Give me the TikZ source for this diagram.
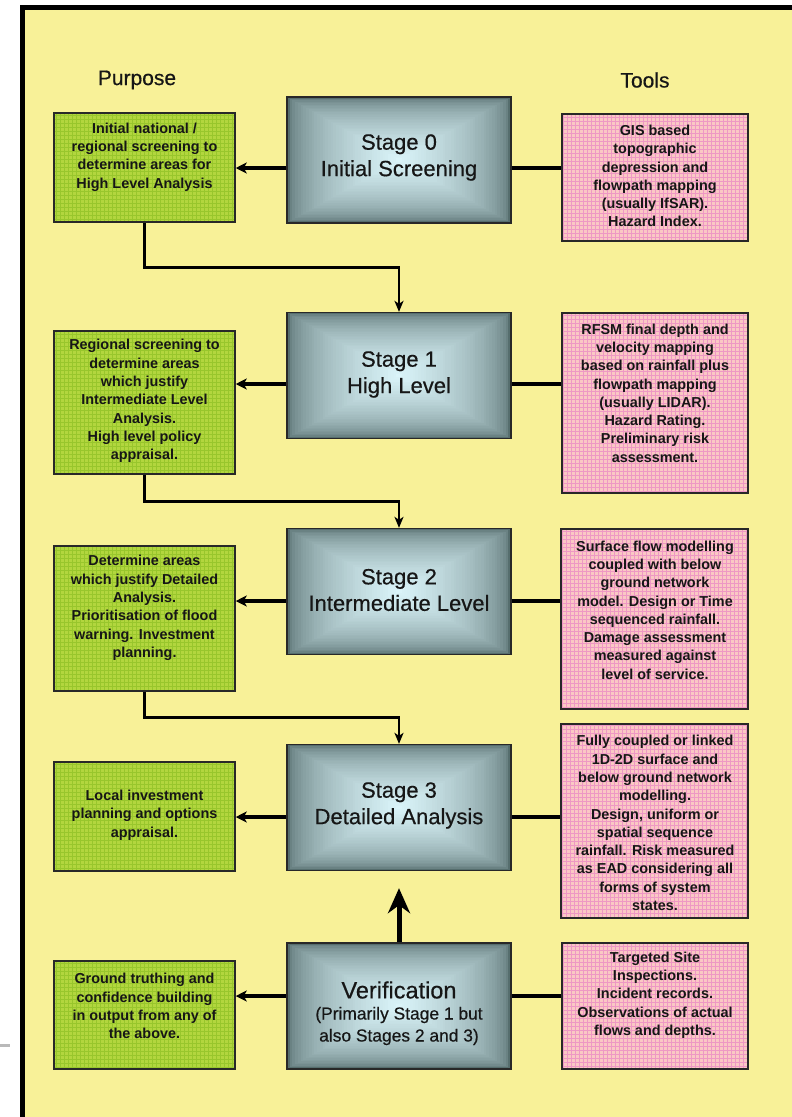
\documentclass[tikz,border=0pt]{standalone}
\usepackage{fontspec}
\setmainfont{Liberation Sans}
\newfontfamily\heavyfont[FakeBold=0.5]{Liberation Sans}
\usetikzlibrary{arrows.meta,calc}
\definecolor{bgyellow}{RGB}{248,241,152}
\definecolor{gfill}{RGB}{178,214,62}
\definecolor{gline}{RGB}{152,198,44}
\definecolor{pfill}{RGB}{250,200,196}
\definecolor{pline}{RGB}{238,152,196}
\definecolor{sdark}{RGB}{86,110,110}
\definecolor{slight}{RGB}{218,244,249}
\definecolor{bord}{RGB}{40,40,40}
\definecolor{txt}{RGB}{22,22,22}
\tikzset{
  gbox/.style={draw=bord, line width=1.5pt, fill=gfill, inner sep=0pt,
    path picture={\draw[gline, line width=0.7pt, step=4pt]
      (path picture bounding box.south west) grid (path picture bounding box.north east);}},
  pbox/.style={draw=bord, line width=1.5pt, fill=pfill, inner sep=0pt,
    path picture={\draw[pline, line width=0.6pt, step=4pt]
      (path picture bounding box.south west) grid (path picture bounding box.north east);}},
  stagebox/.style={draw=bord, line width=1.3pt, inner sep=0pt,
    minimum width=224, minimum height=126,
    path picture={
      \foreach \i in {0,...,40}{
        \pgfmathsetmacro\f{1-\i/41}
        \pgfmathtruncatemacro\p{100*(\i/40)^0.5}
        \fill[slight!\p!sdark]
          ($(path picture bounding box.center)!\f!(path picture bounding box.north east)$)
          rectangle
          ($(path picture bounding box.center)!\f!(path picture bounding box.south west)$);
      }}},
  smalltext/.style={font=\fontsize{14.4}{18.3}\selectfont\bfseries, align=center, text=txt, inner sep=0pt},
  stagetext/.style={font=\heavyfont\fontsize{22}{26.5}\selectfont, align=center, text=txt, inner sep=0pt},
  head/.style={font=\heavyfont\fontsize{21}{25}\selectfont, text=txt, inner sep=0pt},
  leftarrow/.style={line width=4pt, -{Stealth[length=11pt,width=11pt,inset=3pt]}},
  toolline/.style={line width=3.2pt},
  flow/.style={line width=2.6pt, -{Stealth[length=11pt,width=9pt,inset=3pt]}},
  bigarrow/.style={line width=5pt, -{Stealth[length=25pt,width=22pt,inset=8pt]}}
}
\begin{document}
\begin{tikzpicture}[x=1pt,y=-1pt]
\useasboundingbox (0,0) rectangle (792,1117);
\fill[white] (0,0) rectangle (792,1117);
\fill[bgyellow] (25,9) rectangle (792,1117);
\draw[line width=5pt, line join=miter] (22.5,1117) -- (22.5,7) -- (792,7);
\draw[gray!55, line width=3pt] (0,1045) -- (10,1045);

% headers
\node[head] (purpose) at (137,80) {Purpose};
\node[head] (tools) at (645,80) {Tools};

% stage boxes
\node[stagebox] (S0) at (399,160) {};
\node[stagebox] (S1) at (399,375.5) {};
\node[stagebox] (S2) at (399,591.5) {};
\node[stagebox] (S3) at (399,807.5) {};
\node[stagebox] (V) at (399,1006) {};
\node[stagetext] (S0t) at (399,157.5) {Stage 0\\Initial Screening};
\node[stagetext] (S1t) at (399,374.5) {Stage 1\\High Level};
\node[stagetext] (S2t) at (399,590) {Stage 2\\Intermediate Level};
\node[stagetext] (S3t) at (399,805.5) {Stage 3\\Detailed Analysis};
\node[stagetext, font=\heavyfont\fontsize{23.5}{26}\selectfont] (Vt) at (399,990) {Verification};
\node[stagetext, font=\heavyfont\fontsize{17.4}{22}\selectfont] (Vs) at (399,1026) {(Primarily Stage 1 but\\also Stages 2 and 3)};

% purpose boxes
\node[gbox, minimum width=181, minimum height=109] (G0) at (144.5,167.5) {};
\node[gbox, minimum width=181, minimum height=143] (G1) at (144.5,402.5) {};
\node[gbox, minimum width=181, minimum height=145] (G2) at (144.5,618.5) {};
\node[gbox, minimum width=181, minimum height=109] (G3) at (144.5,816.5) {};
\node[gbox, minimum width=181, minimum height=108] (G4) at (144.5,1015) {};
\node[smalltext] (G0t) at (144.5,157) {Initial national /\\regional screening to\\determine areas for\\High Level Analysis};
\node[smalltext] (G1t) at (144.5,401) {Regional screening to\\determine areas\\which justify\\Intermediate Level\\Analysis.\\High level policy\\appraisal.};
\node[smalltext] (G2t) at (144.5,608) {Determine areas\\which justify Detailed\\Analysis.\\Prioritisation of flood\\warning. Investment\\planning.};
\node[smalltext] (G3t) at (144.5,815) {Local investment\\planning and options\\appraisal.};
\node[smalltext] (G4t) at (144.5,1006) {Ground truthing and\\confidence building\\in output from any of\\the above.};

% tools boxes
\node[pbox, minimum width=186, minimum height=127] (P0) at (655,177.5) {};
\node[pbox, minimum width=186, minimum height=180] (P1) at (655,403) {};
\node[pbox, minimum width=187, minimum height=180] (P2) at (654.5,619) {};
\node[pbox, minimum width=187, minimum height=194] (P3) at (654.5,821) {};
\node[pbox, minimum width=186, minimum height=126] (P4) at (655,1006) {};
\node[smalltext] (P0t) at (655,176) {GIS based\\topographic\\depression and\\flowpath mapping\\(usually IfSAR).\\Hazard Index.};
\node[smalltext] (P1t) at (655,393) {RFSM final depth and\\velocity mapping\\based on rainfall plus\\flowpath mapping\\(usually LIDAR).\\Hazard Rating.\\Preliminary risk\\assessment.};
\node[smalltext] (P2t) at (655,610) {Surface flow modelling\\coupled with below\\ground network\\model. Design or Time\\sequenced rainfall.\\Damage assessment\\measured against\\level of service.};
\node[smalltext] (P3t) at (655,823) {Fully coupled or linked\\1D-2D surface and\\below ground network\\modelling.\\Design, uniform or\\spatial sequence\\rainfall. Risk measured\\as EAD considering all\\forms of system\\states.};
\node[smalltext] (P4t) at (655,995) {Targeted Site\\Inspections.\\Incident records.\\Observations of actual\\flows and depths.};

% horizontal connectors
\coordinate (r0) at (0,168);
\coordinate (r1) at (0,384);
\coordinate (r2) at (0,601);
\coordinate (r3) at (0,817);
\coordinate (r4) at (0,996);
\foreach \s/\g/\t/\r in {S0/G0/P0/r0, S1/G1/P1/r1, S2/G2/P2/r2, S3/G3/P3/r3, V/G4/P4/r4}{
  \draw[leftarrow] (\s.west |- \r) -- (\g.east |- \r);
  \draw[toolline] (\s.east |- \r) -- (\t.west |- \r);
}

% flow connectors
\draw[flow] (G0.south) -- ++(0,45) -| (S1.north);
\draw[flow] (G1.south) -- ++(0,27) -| (S2.north);
\draw[flow] (G2.south) -- ++(0,26) -| (S3.north);
\draw[bigarrow] (V.north) -- ([yshift=-17pt]S3.south);
\end{tikzpicture}
\end{document}
